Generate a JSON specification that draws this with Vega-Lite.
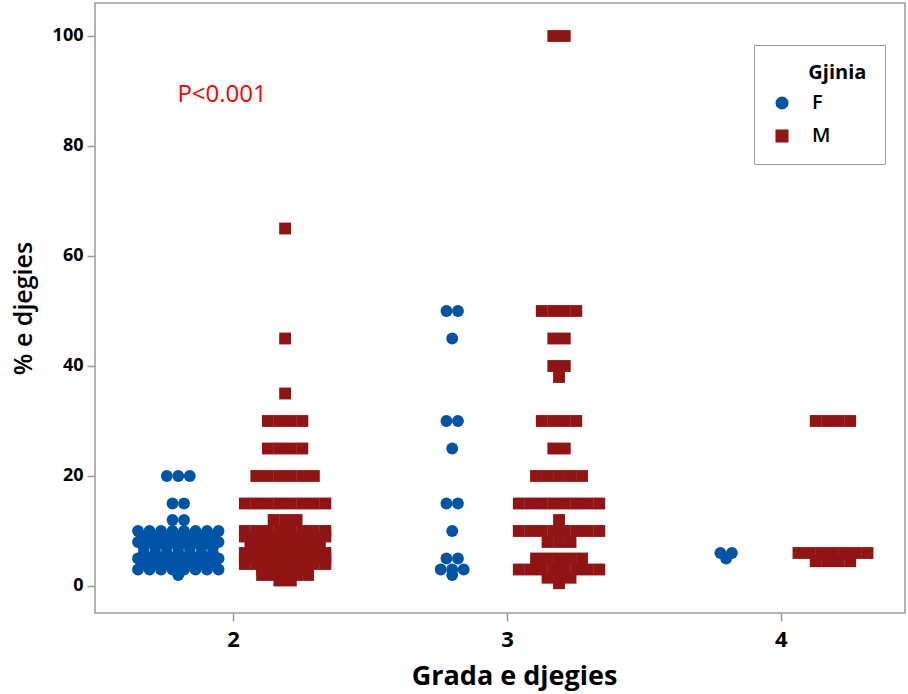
{
  "$schema": "https://vega.github.io/schema/vega-lite/v6.json",
  "width": 810,
  "height": 610,
  "autosize": {"type": "none"},
  "padding": {"left": 95, "top": 3, "right": 3, "bottom": 81},
  "background": "white",
  "config": {
    "view": {"stroke": "#9a9a9a", "strokeWidth": 1.5},
    "font": "Open Sans"
  },
  "layer": [
    {
      "data": {
        "values": [
          {"g":2,"s":"F","v":20},{"g":2,"s":"F","v":20},{"g":2,"s":"F","v":20},
          {"g":2,"s":"F","v":15},{"g":2,"s":"F","v":15},
          {"g":2,"s":"F","v":12},{"g":2,"s":"F","v":12},
          {"g":2,"s":"F","v":10},{"g":2,"s":"F","v":10},{"g":2,"s":"F","v":10},{"g":2,"s":"F","v":10},{"g":2,"s":"F","v":10},{"g":2,"s":"F","v":10},{"g":2,"s":"F","v":10},{"g":2,"s":"F","v":10},
          {"g":2,"s":"F","v":9},{"g":2,"s":"F","v":9},{"g":2,"s":"F","v":9},{"g":2,"s":"F","v":9},{"g":2,"s":"F","v":9},{"g":2,"s":"F","v":9},{"g":2,"s":"F","v":9},
          {"g":2,"s":"F","v":8},{"g":2,"s":"F","v":8},{"g":2,"s":"F","v":8},{"g":2,"s":"F","v":8},{"g":2,"s":"F","v":8},{"g":2,"s":"F","v":8},{"g":2,"s":"F","v":8},{"g":2,"s":"F","v":8},
          {"g":2,"s":"F","v":7},{"g":2,"s":"F","v":7},{"g":2,"s":"F","v":7},{"g":2,"s":"F","v":7},{"g":2,"s":"F","v":7},{"g":2,"s":"F","v":7},{"g":2,"s":"F","v":7},
          {"g":2,"s":"F","v":6},{"g":2,"s":"F","v":6},{"g":2,"s":"F","v":6},{"g":2,"s":"F","v":6},{"g":2,"s":"F","v":6},{"g":2,"s":"F","v":6},{"g":2,"s":"F","v":6},
          {"g":2,"s":"F","v":5},{"g":2,"s":"F","v":5},{"g":2,"s":"F","v":5},{"g":2,"s":"F","v":5},{"g":2,"s":"F","v":5},{"g":2,"s":"F","v":5},{"g":2,"s":"F","v":5},{"g":2,"s":"F","v":5},
          {"g":2,"s":"F","v":4},{"g":2,"s":"F","v":4},{"g":2,"s":"F","v":4},{"g":2,"s":"F","v":4},{"g":2,"s":"F","v":4},{"g":2,"s":"F","v":4},{"g":2,"s":"F","v":4},
          {"g":2,"s":"F","v":3},{"g":2,"s":"F","v":3},{"g":2,"s":"F","v":3},{"g":2,"s":"F","v":3},{"g":2,"s":"F","v":3},{"g":2,"s":"F","v":3},{"g":2,"s":"F","v":3},{"g":2,"s":"F","v":3},
          {"g":2,"s":"F","v":2},

          {"g":2,"s":"M","v":65},{"g":2,"s":"M","v":45},{"g":2,"s":"M","v":35},
          {"g":2,"s":"M","v":30},{"g":2,"s":"M","v":30},{"g":2,"s":"M","v":30},{"g":2,"s":"M","v":30},
          {"g":2,"s":"M","v":25},{"g":2,"s":"M","v":25},{"g":2,"s":"M","v":25},{"g":2,"s":"M","v":25},
          {"g":2,"s":"M","v":20},{"g":2,"s":"M","v":20},{"g":2,"s":"M","v":20},{"g":2,"s":"M","v":20},{"g":2,"s":"M","v":20},{"g":2,"s":"M","v":20},
          {"g":2,"s":"M","v":15},{"g":2,"s":"M","v":15},{"g":2,"s":"M","v":15},{"g":2,"s":"M","v":15},{"g":2,"s":"M","v":15},{"g":2,"s":"M","v":15},{"g":2,"s":"M","v":15},{"g":2,"s":"M","v":15},
          {"g":2,"s":"M","v":12},{"g":2,"s":"M","v":12},{"g":2,"s":"M","v":12},
          {"g":2,"s":"M","v":10},{"g":2,"s":"M","v":10},{"g":2,"s":"M","v":10},{"g":2,"s":"M","v":10},{"g":2,"s":"M","v":10},{"g":2,"s":"M","v":10},{"g":2,"s":"M","v":10},{"g":2,"s":"M","v":10},
          {"g":2,"s":"M","v":9},{"g":2,"s":"M","v":9},{"g":2,"s":"M","v":9},{"g":2,"s":"M","v":9},{"g":2,"s":"M","v":9},{"g":2,"s":"M","v":9},{"g":2,"s":"M","v":9},{"g":2,"s":"M","v":9},
          {"g":2,"s":"M","v":8},{"g":2,"s":"M","v":8},{"g":2,"s":"M","v":8},{"g":2,"s":"M","v":8},{"g":2,"s":"M","v":8},{"g":2,"s":"M","v":8},{"g":2,"s":"M","v":8},
          {"g":2,"s":"M","v":7},{"g":2,"s":"M","v":7},{"g":2,"s":"M","v":7},{"g":2,"s":"M","v":7},{"g":2,"s":"M","v":7},{"g":2,"s":"M","v":7},{"g":2,"s":"M","v":7},
          {"g":2,"s":"M","v":6},{"g":2,"s":"M","v":6},{"g":2,"s":"M","v":6},{"g":2,"s":"M","v":6},{"g":2,"s":"M","v":6},{"g":2,"s":"M","v":6},{"g":2,"s":"M","v":6},{"g":2,"s":"M","v":6},
          {"g":2,"s":"M","v":5},{"g":2,"s":"M","v":5},{"g":2,"s":"M","v":5},{"g":2,"s":"M","v":5},{"g":2,"s":"M","v":5},{"g":2,"s":"M","v":5},{"g":2,"s":"M","v":5},{"g":2,"s":"M","v":5},
          {"g":2,"s":"M","v":4},{"g":2,"s":"M","v":4},{"g":2,"s":"M","v":4},{"g":2,"s":"M","v":4},{"g":2,"s":"M","v":4},{"g":2,"s":"M","v":4},{"g":2,"s":"M","v":4},{"g":2,"s":"M","v":4},
          {"g":2,"s":"M","v":3},{"g":2,"s":"M","v":3},{"g":2,"s":"M","v":3},{"g":2,"s":"M","v":3},{"g":2,"s":"M","v":3},
          {"g":2,"s":"M","v":2},{"g":2,"s":"M","v":2},{"g":2,"s":"M","v":2},{"g":2,"s":"M","v":2},{"g":2,"s":"M","v":2},
          {"g":2,"s":"M","v":1},{"g":2,"s":"M","v":1},

          {"g":3,"s":"F","v":50},{"g":3,"s":"F","v":50},{"g":3,"s":"F","v":45},
          {"g":3,"s":"F","v":30},{"g":3,"s":"F","v":30},{"g":3,"s":"F","v":25},
          {"g":3,"s":"F","v":15},{"g":3,"s":"F","v":15},{"g":3,"s":"F","v":10},
          {"g":3,"s":"F","v":5},{"g":3,"s":"F","v":5},
          {"g":3,"s":"F","v":3},{"g":3,"s":"F","v":3},{"g":3,"s":"F","v":3},
          {"g":3,"s":"F","v":2},

          {"g":3,"s":"M","v":100},{"g":3,"s":"M","v":100},
          {"g":3,"s":"M","v":50},{"g":3,"s":"M","v":50},{"g":3,"s":"M","v":50},{"g":3,"s":"M","v":50},
          {"g":3,"s":"M","v":45},{"g":3,"s":"M","v":45},
          {"g":3,"s":"M","v":40},{"g":3,"s":"M","v":40},{"g":3,"s":"M","v":38},
          {"g":3,"s":"M","v":30},{"g":3,"s":"M","v":30},{"g":3,"s":"M","v":30},{"g":3,"s":"M","v":30},
          {"g":3,"s":"M","v":25},{"g":3,"s":"M","v":25},
          {"g":3,"s":"M","v":20},{"g":3,"s":"M","v":20},{"g":3,"s":"M","v":20},{"g":3,"s":"M","v":20},{"g":3,"s":"M","v":20},
          {"g":3,"s":"M","v":15},{"g":3,"s":"M","v":15},{"g":3,"s":"M","v":15},{"g":3,"s":"M","v":15},{"g":3,"s":"M","v":15},{"g":3,"s":"M","v":15},{"g":3,"s":"M","v":15},{"g":3,"s":"M","v":15},
          {"g":3,"s":"M","v":12},
          {"g":3,"s":"M","v":10},{"g":3,"s":"M","v":10},{"g":3,"s":"M","v":10},{"g":3,"s":"M","v":10},{"g":3,"s":"M","v":10},{"g":3,"s":"M","v":10},{"g":3,"s":"M","v":10},{"g":3,"s":"M","v":10},
          {"g":3,"s":"M","v":8},{"g":3,"s":"M","v":8},{"g":3,"s":"M","v":8},
          {"g":3,"s":"M","v":5},{"g":3,"s":"M","v":5},{"g":3,"s":"M","v":5},{"g":3,"s":"M","v":5},{"g":3,"s":"M","v":5},
          {"g":3,"s":"M","v":3},{"g":3,"s":"M","v":3},{"g":3,"s":"M","v":3},{"g":3,"s":"M","v":3},{"g":3,"s":"M","v":3},{"g":3,"s":"M","v":3},{"g":3,"s":"M","v":3},{"g":3,"s":"M","v":3},
          {"g":3,"s":"M","v":1.5},{"g":3,"s":"M","v":1.5},{"g":3,"s":"M","v":1.5},
          {"g":3,"s":"M","v":0.5},

          {"g":4,"s":"F","v":6},{"g":4,"s":"F","v":6},{"g":4,"s":"F","v":5},

          {"g":4,"s":"M","v":30},{"g":4,"s":"M","v":30},{"g":4,"s":"M","v":30},{"g":4,"s":"M","v":30},
          {"g":4,"s":"M","v":6},{"g":4,"s":"M","v":6},{"g":4,"s":"M","v":6},{"g":4,"s":"M","v":6},{"g":4,"s":"M","v":6},{"g":4,"s":"M","v":6},{"g":4,"s":"M","v":6},
          {"g":4,"s":"M","v":4.5},{"g":4,"s":"M","v":4.5},{"g":4,"s":"M","v":4.5},{"g":4,"s":"M","v":4.5}
        ]
      },
      "transform": [
        {"window": [{"op": "row_number", "as": "r"}], "groupby": ["g", "s", "v"]},
        {"joinaggregate": [{"op": "count", "as": "n"}], "groupby": ["g", "s", "v"]},
        {"calculate": "datum.g + (datum.s == 'F' ? -0.2 : 0.19) + (datum.r - (datum.n + 1) / 2) * 0.042", "as": "xp"}
      ],
      "mark": {"type": "point", "filled": true, "opacity": 1, "size": 140},
      "encoding": {
        "x": {
          "field": "xp", "type": "quantitative",
          "scale": {"domain": [1.496, 4.453], "nice": false, "zero": false},
          "axis": {
            "title": "Grada e djegies", "values": [2, 3, 4], "format": "d",
            "grid": false, "domain": false, "tickColor": "#9a9a9a", "tickSize": 8, "tickWidth": 1.5,
            "labelFontSize": 22, "labelFontWeight": "bold", "labelColor": "black", "labelPadding": 8,
            "titleFontSize": 27, "titleFontWeight": "bold", "titleColor": "black", "titlePadding": 13, "titleX": 419
          }
        },
        "y": {
          "field": "v", "type": "quantitative",
          "scale": {"domain": [-4.91, 106], "nice": false, "zero": false},
          "axis": {
            "title": "% e djegies", "values": [0, 20, 40, 60, 80, 100],
            "grid": false, "domain": false, "tickColor": "#9a9a9a", "tickSize": 8, "tickWidth": 1.5,
            "labelFontSize": 18, "labelFontWeight": "bold", "labelColor": "black", "labelPadding": 4,
            "titleFontSize": 25, "titleFontWeight": 600, "titleColor": "black", "titlePadding": 16
          }
        },
        "color": {
          "field": "s", "type": "nominal",
          "scale": {"domain": ["F", "M"], "range": ["#0054A6", "#901414"]},
          "legend": {
            "title": "\u200b\u00a0\u00a0\u00a0\u00a0\u00a0\u00a0\u00a0Gjinia\u00a0", "orient": "none", "legendX": 659, "legendY": 42,
            "titleFontSize": 20, "titleFontWeight": "bold", "titleColor": "black", "titlePadding": 10,
            "labelFontSize": 20, "labelFontWeight": 600, "labelColor": "black", "labelOffset": 20,
            "symbolSize": 170, "rowPadding": 13, "padding": 18,
            "strokeColor": "#9a9a9a", "fillColor": "white"
          }
        },
        "shape": {
          "field": "s", "type": "nominal",
          "scale": {"domain": ["F", "M"], "range": ["circle", "square"]},
          "legend": {
            "title": "\u200b\u00a0\u00a0\u00a0\u00a0\u00a0\u00a0\u00a0Gjinia\u00a0", "orient": "none", "legendX": 659, "legendY": 42,
            "titleFontSize": 20, "titleFontWeight": "bold", "titleColor": "black", "titlePadding": 10,
            "labelFontSize": 20, "labelFontWeight": 600, "labelColor": "black", "labelOffset": 20,
            "symbolSize": 170, "rowPadding": 13, "padding": 18,
            "strokeColor": "#9a9a9a", "fillColor": "white"
          }
        }
      }
    },
    {
      "data": {"values": [{"x": 1.96, "y": 89.3, "t": "P<0.001"}]},
      "mark": {"type": "text", "color": "#ff0000", "fontSize": 24, "font": "Open Sans", "align": "center", "baseline": "middle"},
      "encoding": {
        "x": {"field": "x", "type": "quantitative"},
        "y": {"field": "y", "type": "quantitative"},
        "text": {"field": "t", "type": "nominal"}
      }
    }
  ]
}
